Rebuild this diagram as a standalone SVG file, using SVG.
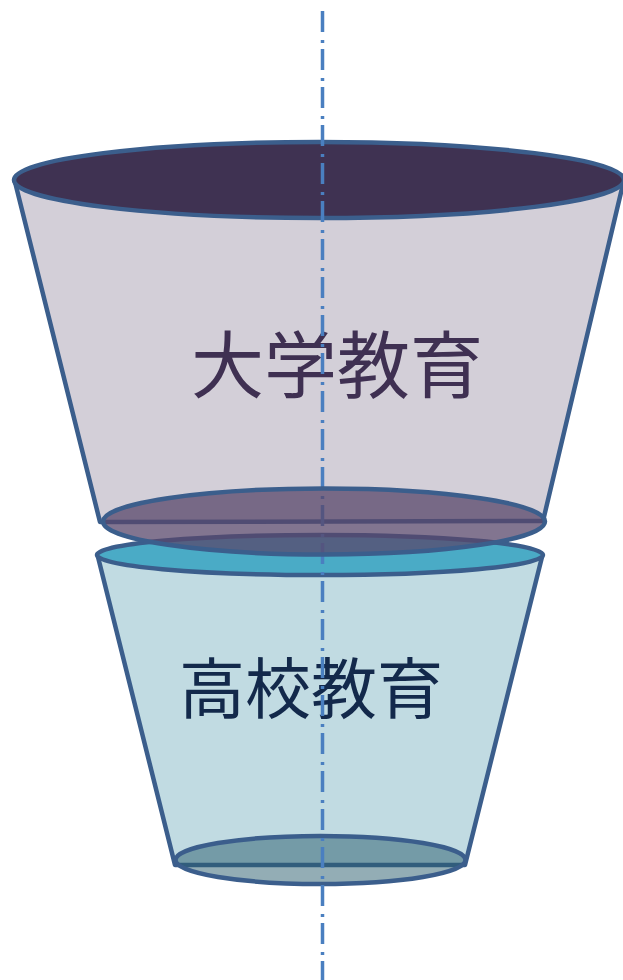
<svg xmlns="http://www.w3.org/2000/svg" width="623" height="980" viewBox="0 0 623 980">
<style>
.s{stroke:#3b5e8c;stroke-width:4.5;stroke-linejoin:round}
.t{font-family:"Noto Sans CJK JP","Noto Sans CJK SC",sans-serif;font-weight:400;text-anchor:middle;dominant-baseline:central}
</style>
<rect width="623" height="980" fill="#ffffff"/>
<g id="upper-funnel">
<polygon class="s" points="15,182 623,184 543,521 100,522" fill="#d3cfd8"/>
<ellipse class="s" cx="319" cy="180" rx="305" ry="38" fill="#3f3252"/>
<text class="t" x="337" y="360" font-size="73" fill="#3f3052">大学教育</text>
</g>
<g id="lower-funnel">
<polygon class="s" points="98,557 542,557 465,865 175,865" fill="#c1dbe2"/>
<ellipse class="s" cx="320" cy="555" rx="223" ry="20" fill="#4aabc6"/>
<ellipse class="s" cx="320.5" cy="860" rx="145" ry="24" fill="#275b6b" fill-opacity="0.5"/>
<text class="t" x="311" y="684" font-size="66" fill="#13294b">高校教育</text>
</g>
<g id="connectors">
<line x1="322.5" y1="11" x2="322.5" y2="980" stroke="#4a7fc0" stroke-width="3.5" stroke-dasharray="21 8 3 6"/>
</g>
<g id="upper-funnel-bottom">
<ellipse class="s" cx="324" cy="521.5" rx="221" ry="33" fill="#58476b" fill-opacity="0.75"/>
</g>
</svg>
